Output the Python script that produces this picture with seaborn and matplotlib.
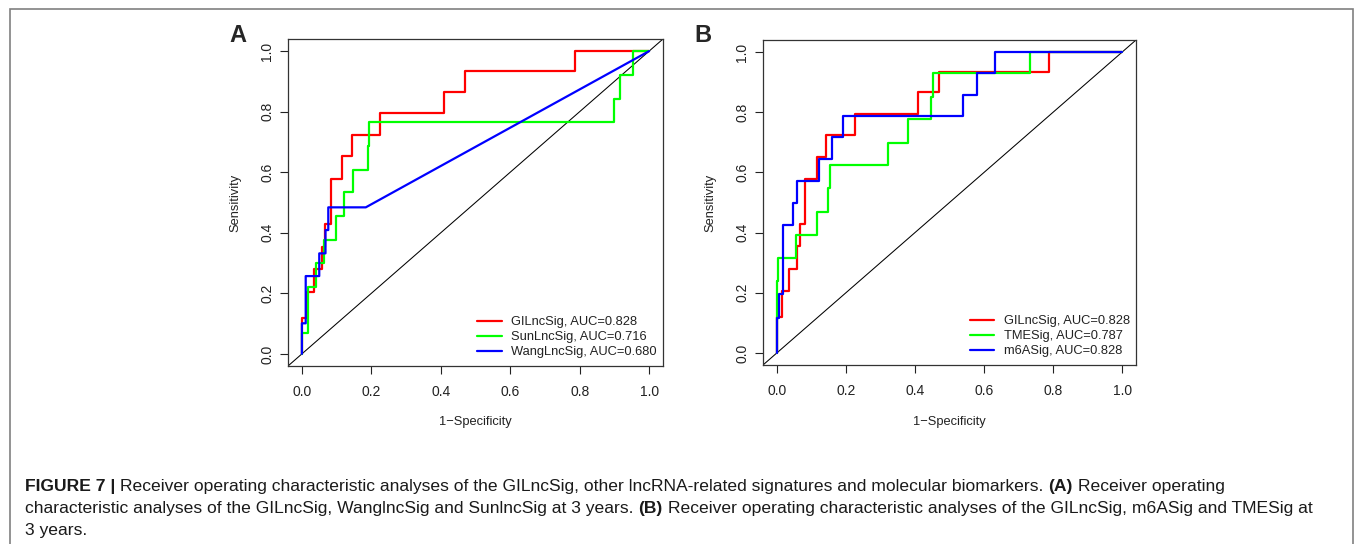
import pandas as pd
import matplotlib
matplotlib.use("Agg")
import matplotlib.pyplot as plt
from matplotlib.lines import Line2D
from matplotlib.patches import Rectangle
import seaborn as sns

# ROC vertices: 1-specificity (fpr) and sensitivity (tpr)
gil_fpr = [0, 0, 0.015, 0.015, 0.034, 0.034, 0.057, 0.057, 0.066, 0.066, 0.083, 0.083,
           0.116, 0.116, 0.143, 0.143, 0.225, 0.225, 0.408, 0.408, 0.471, 0.471, 0.787, 0.787, 1.0]
gil_tpr = [0, 0.118, 0.118, 0.206, 0.206, 0.280, 0.280, 0.354, 0.354, 0.429, 0.429, 0.579,
           0.579, 0.652, 0.652, 0.724, 0.724, 0.795, 0.795, 0.866, 0.866, 0.934, 0.934, 1.0, 1.0]

sun_fpr = [0, 0, 0.018, 0.018, 0.040, 0.040, 0.064, 0.064, 0.098, 0.098, 0.120, 0.120,
           0.146, 0.146, 0.189, 0.189, 0.193, 0.193, 0.900, 0.900, 0.917, 0.917, 0.955, 0.955, 1.0]
sun_tpr = [0, 0.068, 0.068, 0.222, 0.222, 0.300, 0.300, 0.376, 0.376, 0.455, 0.455, 0.534,
           0.534, 0.608, 0.608, 0.688, 0.688, 0.767, 0.767, 0.841, 0.841, 0.921, 0.921, 1.0, 1.0]

wang_fpr = [0, 0, 0.011, 0.011, 0.050, 0.050, 0.068, 0.068, 0.076, 0.076, 0.184, 1.0]
wang_tpr = [0, 0.101, 0.101, 0.257, 0.257, 0.332, 0.332, 0.409, 0.409, 0.484, 0.484, 1.0]

tme_fpr = [0, 0, 0.003, 0.003, 0.056, 0.056, 0.116, 0.116, 0.149, 0.149, 0.154, 0.154,
           0.323, 0.323, 0.381, 0.381, 0.446, 0.446, 0.451, 0.451, 0.733, 0.733, 1.0]
tme_tpr = [0, 0.239, 0.239, 0.315, 0.315, 0.393, 0.393, 0.470, 0.470, 0.547, 0.547, 0.624,
           0.624, 0.699, 0.699, 0.778, 0.778, 0.852, 0.852, 0.929, 0.929, 1.0, 1.0]

m6a_fpr = [0, 0, 0.005, 0.005, 0.019, 0.019, 0.046, 0.046, 0.058, 0.058, 0.123, 0.123,
           0.159, 0.159, 0.193, 0.193, 0.539, 0.539, 0.581, 0.581, 0.632, 0.632, 1.0]
m6a_tpr = [0, 0.115, 0.115, 0.197, 0.197, 0.426, 0.426, 0.500, 0.500, 0.572, 0.572, 0.645,
           0.645, 0.717, 0.717, 0.787, 0.787, 0.858, 0.858, 0.929, 0.929, 1.0, 1.0]

labels_a = ["GILncSig, AUC=0.828", "SunLncSig, AUC=0.716", "WangLncSig, AUC=0.680"]
labels_b = ["GILncSig, AUC=0.828", "TMESig, AUC=0.787", "m6ASig, AUC=0.828"]
colors = ["#FF0000", "#00FF00", "#0000FF"]
ticks = [0.0, 0.2, 0.4, 0.6, 0.8, 1.0]
tick_labels = ["0.0", "0.2", "0.4", "0.6", "0.8", "1.0"]

caption = [
    [("FIGURE 7 |", True),
     ("Receiver operating characteristic analyses of the GILncSig, other lncRNA-related "
      "signatures and molecular biomarkers.", False),
     ("(A)", True), ("Receiver operating", False)],
    [("characteristic analyses of the GILncSig, WanglncSig and SunlncSig at 3 years.", False),
     ("(B)", True),
     ("Receiver operating characteristic analyses of the GILncSig, m6ASig and TMESig at", False)],
    [("3 years.", False)],
]

W, H = 1355, 544
sns.set_style("white")
plt.rcParams["font.family"] = ["Liberation Sans", "DejaVu Sans"]
text_col = "#222222"


def draw_roc(ax, curves, labels, ax_w, ax_h):
    frames = [pd.DataFrame({"fpr": f, "tpr": t, "model": lab}) for (f, t), lab in zip(curves, labels)]
    df = pd.concat(frames, ignore_index=True)
    ax.axline((0, 0), slope=1, color="black", lw=0.75, zorder=1)
    sns.lineplot(data=df, x="fpr", y="tpr", hue="model", hue_order=labels, palette=colors,
                 sort=False, estimator=None, lw=1.6, legend=False, ax=ax, zorder=2)
    ax.set_xlim(-0.04, 1.04)
    ax.set_ylim(-0.04, 1.04)
    ax.set_xticks(ticks, tick_labels)
    ax.set_yticks(ticks, tick_labels)
    ax.tick_params(bottom=True, left=True, direction="out", length=5.8, width=0.8,
                   colors=text_col, labelsize=10)
    ax.tick_params(axis="x", pad=8)
    ax.tick_params(axis="y", labelrotation=90, pad=4)
    for lab in ax.get_yticklabels():
        lab.set_va("center")
    for s in ax.spines.values():
        s.set_visible(True)
        s.set_color("#333333")
        s.set_linewidth(0.9)
    ax.set_xlabel("1\u2212Specificity", fontsize=9.3, color=text_col)
    ax.set_ylabel("Sensitivity", fontsize=9.3, color=text_col)
    ax.xaxis.label.set_va("center")
    ax.yaxis.label.set_va("center")
    ax.xaxis.set_label_coords(0.5, -56.5 / ax_h)
    ax.yaxis.set_label_coords(-53 / ax_w, 0.5)
    handles = [Line2D([], [], color=c, lw=1.6) for c in colors]
    ax.legend(handles, labels, loc="lower right", bbox_to_anchor=(0.984, 0.024),
              frameon=False, fontsize=9.3, handlelength=1.9, handletextpad=0.75,
              labelspacing=0.22, borderpad=0, borderaxespad=0, labelcolor=text_col)


fig = plt.figure(figsize=(W / 100, H / 100), dpi=100)
ax_a = fig.add_axes([288 / W, 1 - 366 / H, 375 / W, 327 / H])
ax_b = fig.add_axes([763 / W, 1 - 365 / H, 373 / W, 325 / H])

draw_roc(ax_a, [(gil_fpr, gil_tpr), (sun_fpr, sun_tpr), (wang_fpr, wang_tpr)], labels_a, 375, 327)
draw_roc(ax_b, [(gil_fpr, gil_tpr), (tme_fpr, tme_tpr), (m6a_fpr, m6a_tpr)], labels_b, 373, 325)

fig.text(238 / W, 1 - 36 / H, "A", fontsize=17, fontweight="bold", ha="center", va="center")
fig.text(703 / W, 1 - 35 / H, "B", fontsize=17, fontweight="bold", ha="center", va="center")

# outer frame (bottom edge runs off the image)
fig.add_artist(Rectangle((9.5 / W, -0.05), (1352.5 - 9.5) / W, (H - 8.5) / H + 0.05,
                         transform=fig.transFigure, fill=False, edgecolor="#808080",
                         lw=1.2, clip_on=False))

# caption with bold pieces
renderer = fig.canvas.get_renderer()
cap_size = 12.6
probe1 = fig.text(0, 0, "a a", fontsize=cap_size)
probe2 = fig.text(0, 0, "aa", fontsize=cap_size)
space_w = probe1.get_window_extent(renderer).width - probe2.get_window_extent(renderer).width
probe1.remove()
probe2.remove()
for y_px, parts in zip([490.5, 513, 535.5], caption):
    x_px = 25
    for txt, bold in parts:
        t = fig.text(x_px / W, 1 - y_px / H, txt, fontsize=cap_size,
                     fontweight="bold" if bold else "normal", va="baseline", ha="left",
                     color="#1a1a1a")
        x_px += t.get_window_extent(renderer).width + space_w

fig.savefig("out.png", dpi=100)
